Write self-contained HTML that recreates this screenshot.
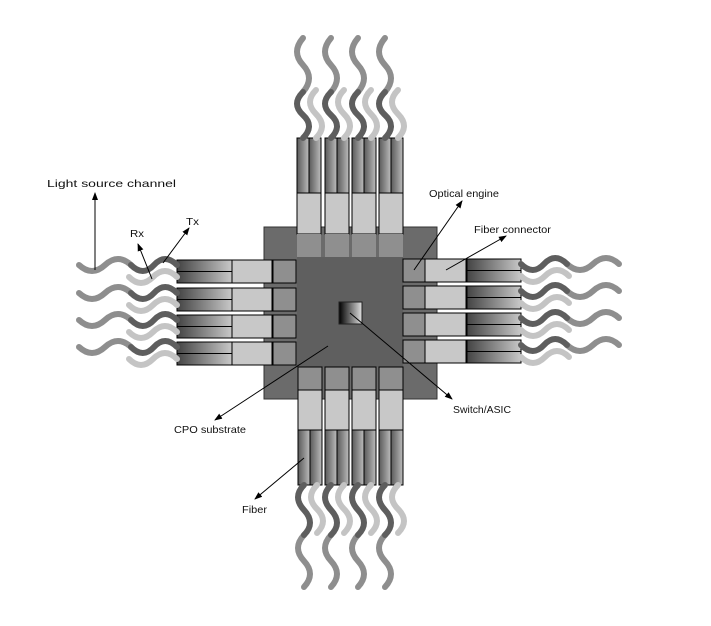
<!DOCTYPE html>
<html><head><meta charset="utf-8"><style>
html,body{margin:0;padding:0;background:#fff;}
svg{display:block;}
text{font-family:"Liberation Sans",sans-serif;font-size:10.5px;fill:#111;}
</style></head><body>
<svg width="711" height="626" viewBox="0 0 711 626" xmlns="http://www.w3.org/2000/svg">
<defs>
<linearGradient id="gh" x1="0" y1="0" x2="1" y2="0"><stop offset="0" stop-color="#444"/><stop offset="1" stop-color="#c8c8c8"/></linearGradient>
<linearGradient id="gv" x1="0" y1="0" x2="1" y2="0"><stop offset="0" stop-color="#5a5a5a"/><stop offset="0.5" stop-color="#8a8a8a"/><stop offset="1" stop-color="#bdbdbd"/></linearGradient>
<linearGradient id="ga" x1="0" y1="0" x2="1" y2="0"><stop offset="0" stop-color="#000"/><stop offset="1" stop-color="#e0e0e0"/></linearGradient>
<marker id="ah" markerWidth="8" markerHeight="6" refX="7" refY="3" orient="auto" markerUnits="userSpaceOnUse"><path d="M0,0 L8,3 L0,6 Z" fill="#000"/></marker>
<g id="topmod">
<rect x="297" y="138" width="12" height="55" fill="url(#gv)" stroke="#000"/>
<rect x="309" y="138" width="12" height="55" fill="url(#gv)" stroke="#000"/>
<rect x="297" y="193" width="24" height="41" fill="#c8c8c8" stroke="#000"/>
<rect x="297" y="234" width="24" height="23" fill="#8f8f8f"/>
</g>
<g id="botmod">
<rect x="298" y="367" width="24" height="23" fill="#8f8f8f" stroke="#000"/>
<rect x="298" y="390" width="24" height="40" fill="#c8c8c8" stroke="#000"/>
<rect x="298" y="430" width="12" height="55" fill="url(#gv)" stroke="#000"/>
<rect x="310" y="430" width="12" height="55" fill="url(#gv)" stroke="#000"/>
</g>
<g id="leftmod">
<rect x="177" y="260" width="55" height="23" fill="url(#gh)" stroke="#000"/>
<line x1="177" y1="271.5" x2="232" y2="271.5" stroke="#000"/>
<rect x="232" y="260" width="40" height="23" fill="#c8c8c8" stroke="#000"/>
<rect x="273" y="260" width="23" height="23" fill="#8f8f8f" stroke="#000"/>
</g>
<g id="rightmod">
<rect x="403" y="259" width="22" height="23" fill="#8f8f8f" stroke="#000"/>
<rect x="425" y="259" width="41" height="23" fill="#c8c8c8" stroke="#000"/>
<rect x="467" y="259" width="54" height="23" fill="url(#gh)" stroke="#000"/>
<line x1="467" y1="270.5" x2="521" y2="270.5" stroke="#000"/>
</g>
<g id="topw" fill="none" stroke-width="6" stroke-linecap="round">
<path d="M303 92 q12 -14 0 -27 t0 -27" stroke="#8e8e8e"/>
<path d="M303 138 q12 -12 0 -23 t0 -23" stroke="#5e5e5e"/>
<path d="M316 138 q12 -12 0 -24 t0 -24" stroke="#c4c4c4"/>
</g>
<g id="botw" fill="none" stroke-width="6" stroke-linecap="round">
<path d="M304 535 q-12 13 0 26 t0 26" stroke="#8e8e8e"/>
<path d="M304 485 q-12 12 0 25 t0 25" stroke="#5e5e5e"/>
<path d="M317 485 q-12 12 0 24 t0 24" stroke="#c4c4c4"/>
</g>
<g id="leftw" fill="none" stroke-width="6" stroke-linecap="round">
<path d="M131 265 q-13 -12 -26 0 t-26 0" stroke="#8e8e8e"/>
<path d="M177 265 q-12 -12 -23 0 t-23 0" stroke="#5e5e5e"/>
<path d="M177 277 q-12 -12 -24 0 t-24 0" stroke="#c4c4c4"/>
</g>
<g id="rightw" fill="none" stroke-width="6" stroke-linecap="round">
<path d="M567 264 q13 12 26 0 t26 0" stroke="#8e8e8e"/>
<path d="M521 264 q12 12 23 0 t23 0" stroke="#5e5e5e"/>
<path d="M521 276 q12 12 24 0 t24 0" stroke="#c4c4c4"/>
</g>
</defs>

<rect x="264" y="227" width="173" height="172" fill="#6b6b6b" stroke="#333"/>
<rect x="297" y="257" width="106" height="110" fill="#5f5f5f"/>

<use href="#topmod"/><use href="#topmod" transform="translate(28,0)"/><use href="#topmod" transform="translate(55,0)"/><use href="#topmod" transform="translate(82,0)"/>
<use href="#botmod"/><use href="#botmod" transform="translate(27,0)"/><use href="#botmod" transform="translate(54,0)"/><use href="#botmod" transform="translate(81,0)"/>
<use href="#leftmod"/><use href="#leftmod" transform="translate(0,28)"/><use href="#leftmod" transform="translate(0,55)"/><use href="#leftmod" transform="translate(0,82)"/>
<use href="#rightmod"/><use href="#rightmod" transform="translate(0,27)"/><use href="#rightmod" transform="translate(0,54)"/><use href="#rightmod" transform="translate(0,81)"/>

<use href="#topw"/><use href="#topw" transform="translate(28,0)"/><use href="#topw" transform="translate(55,0)"/><use href="#topw" transform="translate(82,0)"/>
<use href="#botw"/><use href="#botw" transform="translate(27,0)"/><use href="#botw" transform="translate(54,0)"/><use href="#botw" transform="translate(81,0)"/>
<use href="#leftw"/><use href="#leftw" transform="translate(0,28)"/><use href="#leftw" transform="translate(0,55)"/><use href="#leftw" transform="translate(0,82)"/>
<use href="#rightw"/><use href="#rightw" transform="translate(0,27)"/><use href="#rightw" transform="translate(0,54)"/><use href="#rightw" transform="translate(0,81)"/>

<rect x="339" y="302" width="23" height="22" fill="url(#ga)" stroke="#222"/>

<g stroke="#000" stroke-width="1" fill="none" marker-end="url(#ah)">
<line x1="95" y1="270" x2="95" y2="193"/>
<line x1="152" y1="279" x2="138" y2="244"/>
<line x1="163" y1="263" x2="189" y2="228"/>
<line x1="414" y1="270" x2="462" y2="201"/>
<line x1="446" y1="270" x2="506" y2="236"/>
<line x1="350" y1="313" x2="452" y2="399"/>
<line x1="328" y1="346" x2="215" y2="420"/>
<line x1="304" y1="458" x2="255" y2="499"/>
</g>

<text x="47" y="187" textLength="129" lengthAdjust="spacingAndGlyphs">Light source channel</text>
<text x="130" y="237" textLength="14" lengthAdjust="spacingAndGlyphs">Rx</text>
<text x="186" y="225" textLength="13" lengthAdjust="spacingAndGlyphs">Tx</text>
<text x="429" y="197" textLength="70" lengthAdjust="spacingAndGlyphs">Optical engine</text>
<text x="474" y="233" textLength="77" lengthAdjust="spacingAndGlyphs">Fiber connector</text>
<text x="453" y="413" textLength="58" lengthAdjust="spacingAndGlyphs">Switch/ASIC</text>
<text x="174" y="433" textLength="72" lengthAdjust="spacingAndGlyphs">CPO substrate</text>
<text x="242" y="513" textLength="25" lengthAdjust="spacingAndGlyphs">Fiber</text>
</svg>
</body></html>
